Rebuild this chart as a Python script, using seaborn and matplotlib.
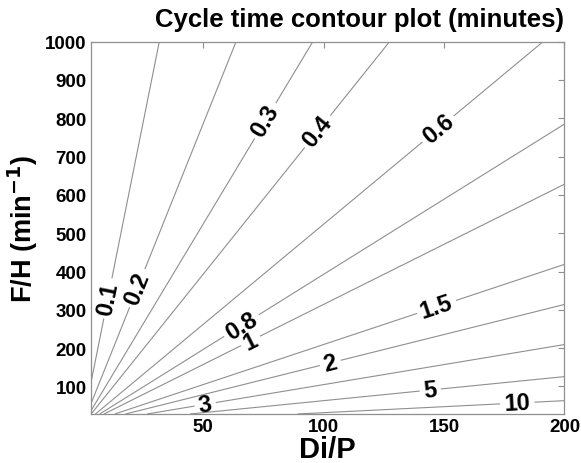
import numpy as np
import matplotlib
matplotlib.use("Agg")
import matplotlib.pyplot as plt
import seaborn as sns

# contour levels (minutes) and where their labels sit
levels = [0.1, 0.2, 0.3, 0.4, 0.6, 0.8, 1, 1.5, 2, 3, 5, 10]
label_pos = [(10.5, 330), (23, 356), (77.8, 786), (98.6, 760), (146.8, 778),
             (65.4, 265), (69.5, 221), (146.4, 317), (102.8, 161),
             (50.8, 57), (144.3, 90), (180.4, 57)]

# cycle time ~ k * (Di/P) / (F/H)
k = 3.14
x_range = (3.5, 200)
y_range = (28, 1000)
x_ticks = [50, 100, 150, 200]
y_ticks = [100, 200, 300, 400, 500, 600, 700, 800, 900, 1000]

sns.set_style("white")
plt.rcParams["font.family"] = ["Liberation Sans", "DejaVu Sans"]
plt.rcParams["font.weight"] = "bold"
plt.rcParams["text.color"] = "black"
plt.rcParams["axes.labelcolor"] = "black"
plt.rcParams["xtick.labelcolor"] = "black"
plt.rcParams["ytick.labelcolor"] = "black"

x = np.linspace(x_range[0], x_range[1], 400)
y = np.linspace(y_range[0], y_range[1], 400)
X, Y = np.meshgrid(x, y)
Z = k * X / Y

fig = plt.figure(figsize=(5.81, 4.64), dpi=100)
ax = fig.add_axes([0.1566, 0.1056, 0.8150, 0.8024])

cs = ax.contour(X, Y, Z, levels=levels, colors="#8f8f8f", linewidths=0.8)
ax.clabel(cs, fmt=lambda v: f"{v:g}", manual=label_pos, inline=True,
          inline_spacing=4, fontsize=17, colors="black")

ax.set_xlim(*x_range)
ax.set_ylim(*y_range)
ax.set_xticks(x_ticks)
ax.set_yticks(y_ticks)
ax.tick_params(direction="in", length=4, color="#8f8f8f", top=True, right=True,
               labelsize=13.5, pad=3)
for lab in ax.get_xticklabels() + ax.get_yticklabels():
    lab.set_fontweight("bold")
for s in ax.spines.values():
    s.set_color("#8f8f8f")
    s.set_linewidth(0.9)

ax.set_title("Cycle time contour plot (minutes)", fontsize=18.5, fontweight="bold",
             pad=11, color="black", x=0.568)
ax.set_xlabel("Di/P", fontsize=21, fontweight="bold", labelpad=0)
ax.set_ylabel("F/H (min$^{\\mathbf{-1}}$)", fontsize=19.5, fontweight="bold", labelpad=4)

fig.savefig("out.png", dpi=100)
